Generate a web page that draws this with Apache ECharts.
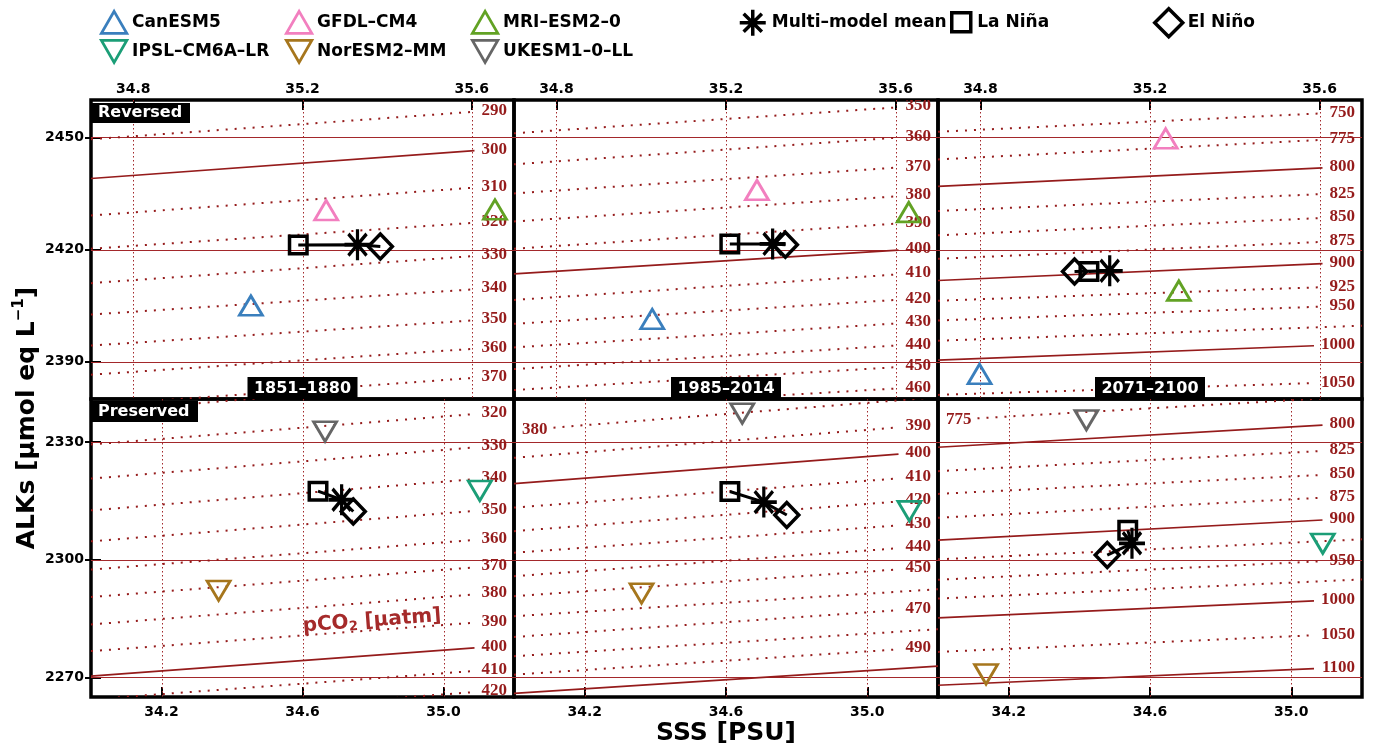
<!DOCTYPE html>
<html><head><meta charset="utf-8">
<script src="https://cdn.jsdelivr.net/npm/echarts@6/dist/echarts.min.js"></script>
<style>html,body{margin:0;padding:0;background:#fff}#c{width:1373px;height:751px}</style>
</head><body><div id="c"></div>
<script>
// ---------------- data ----------------
const periods = ['1851–1880', '1985–2014', '2071–2100'];
const rowLabels = ['Reversed', 'Preserved'];
const xTicksTop = [34.8, 35.2, 35.6];
const xTicksBottom = [34.2, 34.6, 35.0];
const yTicksTop = [2390, 2420, 2450];
const yTicksBottom = [2270, 2300, 2330];
const xRangeTop = [34.7, 35.7];
const xRangeBottom = [34.0, 35.2];
const yRangeTop = [2380, 2460];
const yRangeBottom = [2265, 2341];
// SSS where contour ALK values are read: left edge and label end
const contourXTop = [34.7, 35.6];
const contourXBottom = [34.0, 35.08];

const modelNames = ['CanESM5', 'GFDL–CM4', 'MRI–ESM2–0', 'IPSL–CM6A–LR', 'NorESM2–MM', 'UKESM1–0–LL'];
// [SSS, ALKs] per period
const canESM5 = [[35.078, 2405.0], [35.026, 2401.4], [34.798, 2386.7]];
const gfdlCM4 = [[35.256, 2430.5], [35.273, 2435.9], [35.237, 2449.7]];
const mriESM2 = [[35.655, 2430.7], [35.631, 2430.0], [35.268, 2409.0]];
const ipslCM6A = [[35.103, 2317.6], [35.119, 2312.4], [35.089, 2304.1]];
const norESM2 = [[34.362, 2292.1], [34.361, 2291.4], [34.136, 2270.8]];
const ukESM1 = [[34.664, 2332.7], [34.646, 2337.3], [34.420, 2335.6]];
const laNinaTop = [[35.190, 2421.2], [35.209, 2421.5], [35.056, 2414.1]];
const meanTop = [[35.330, 2421.3], [35.310, 2421.5], [35.105, 2414.3]];
const elNinoTop = [[35.384, 2420.8], [35.340, 2421.3], [35.022, 2414.1]];
const laNinaBottom = [[34.644, 2317.5], [34.611, 2317.4], [34.537, 2307.5]];
const meanBottom = [[34.711, 2315.3], [34.707, 2314.7], [34.549, 2304.2]];
const elNinoBottom = [[34.744, 2312.3], [34.772, 2311.4], [34.479, 2301.2]];

// pCO2 contours: [pCO2, ALKs at left SSS, ALKs at right SSS]
const contoursA = [[290, 2449.5, 2456.8], [300, 2439.0, 2446.4], [310, 2429.1, 2436.5], [320, 2420.2, 2427.1], [330, 2411.0, 2418.2], [340, 2402.6, 2409.3], [350, 2394.3, 2401.0], [360, 2386.5, 2393.4], [370, 2378.3, 2385.6]];
const contoursB = [[350, 2451.1, 2458.0], [360, 2442.8, 2449.9], [370, 2435.0, 2441.9], [380, 2427.5, 2434.2], [390, 2420.2, 2426.9], [400, 2413.5, 2419.8], [410, 2406.5, 2413.3], [420, 2400.1, 2406.5], [430, 2393.8, 2400.2], [440, 2388.0, 2394.3], [450, 2382.4, 2388.5], [460, 2376.8, 2382.8]];
const contoursC = [[750, 2451.5, 2456.4], [775, 2444.1, 2449.3], [800, 2436.9, 2441.8], [825, 2430.3, 2434.8], [850, 2423.8, 2428.4], [875, 2417.5, 2422.0], [900, 2411.7, 2416.2], [925, 2406.3, 2409.9], [950, 2401.0, 2404.7], [1000, 2390.4, 2394.3], [1050, 2381.1, 2384.3]];
const contoursPlainC = [[975, 2395.6, 2399.2]];
const contoursD = [[310, 2337.7, 2345.6], [320, 2329.4, 2337.1], [330, 2320.7, 2328.6], [340, 2312.6, 2320.5], [350, 2304.7, 2312.4], [360, 2297.5, 2305.0], [370, 2290.5, 2298.0], [380, 2283.5, 2291.1], [390, 2276.7, 2283.9], [400, 2270.3, 2277.5], [410, 2264.4, 2271.6], [420, 2259.0, 2266.2]];
const contoursE = [[390, 2326.0, 2333.7], [400, 2319.4, 2326.9], [410, 2313.3, 2320.7], [420, 2307.3, 2314.8], [430, 2301.8, 2308.7], [440, 2295.8, 2302.9], [450, 2290.7, 2297.5], [470, 2280.3, 2287.1], [490, 2270.7, 2277.1]];
const contoursLeftE = [[380, 2332.9, 2340.6]];
const contoursPlainE = [[460, 2285.6, 2291.8], [480, 2275.4, 2281.6], [500, 2265.9, 2272.2]];
const contoursF = [[800, 2328.7, 2334.3], [825, 2322.6, 2327.7], [850, 2316.8, 2321.6], [875, 2310.7, 2315.8], [900, 2305.0, 2310.1], [950, 2294.9, 2299.6], [1000, 2285.2, 2289.6], [1050, 2276.5, 2280.8], [1100, 2268.0, 2272.3]];
const contoursLeftF = [[775, 2335.5, 2341.1]];
const contoursPlainF = [[925, 2300.1, 2304.7], [975, 2290.1, 2294.5]];

// ---------------- styling / layout ----------------
const RED = '#951b1b';
const GRIDRED = '#a3282b';
const FONT = '"DejaVu Sans", sans-serif';
const SERIF = '"Liberation Serif", "DejaVu Serif", serif';
const COLORS = ['#3a7fbd', '#f27fbf', '#62a224', '#1b9e77', '#a6761d', '#666666'];
const TRI_UP = 'path://M10,0L20,17.32L0,17.32Z';
const TRI_DN = 'path://M0,0L20,0L10,17.32Z';
const ASTER = 'path://M10,0L10,20M0,10L20,10M3,3L17,17M3,17L17,3';
const SQUARE = 'path://M0,0L20,0L20,20L0,20Z';
const DIAMOND = 'path://M10,0L20,10L10,20L0,10Z';
const cols = [[91, 514], [514, 938], [938, 1362]];
const rows = [[100, 399], [399, 697]];

const panels = [
  {row: 0, col: 0, right: contoursA, left: [], plain: []},
  {row: 0, col: 1, right: contoursB, left: [], plain: []},
  {row: 0, col: 2, right: contoursC, left: [], plain: contoursPlainC},
  {row: 1, col: 0, right: contoursD, left: [], plain: []},
  {row: 1, col: 1, right: contoursE, left: contoursLeftE, plain: contoursPlainE},
  {row: 1, col: 2, right: contoursF, left: contoursLeftF, plain: contoursPlainF}
];
const topModels = [canESM5, gfdlCM4, mriESM2];
const bottomModels = [ipslCM6A, norESM2, ukESM1];

function makeGridRender(xr, yr) {
  return function (params, api) {
    const o = api.value(0), v = api.value(1);
    const cs = params.coordSys;
    if (o === 0) {
      const y = Math.round(api.coord([xr[0], v])[1]) + 0.5;
      return {type: 'line', shape: {x1: cs.x, y1: y, x2: cs.x + cs.width, y2: y},
        style: {stroke: GRIDRED, lineWidth: 1}};
    }
    const x = Math.round(api.coord([v, yr[0]])[0]) + 0.5;
    return {type: 'line', shape: {x1: x, y1: cs.y, x2: x, y2: cs.y + cs.height},
      style: {stroke: GRIDRED, lineWidth: 1, lineDash: [1.5, 2.5]}};
  };
}

function makeContourRender(cx) {
  return function (params, api) {
    const lvl = api.value(0), aL = api.value(1), aR = api.value(2), mode = api.value(3);
    const cs = params.coordSys;
    const gl = cs.x, gr = cs.x + cs.width;
    const p0 = api.coord([cx[0], aL]), p1 = api.coord([cx[1], aR]);
    const k = (p1[1] - p0[1]) / (p1[0] - p0[0]);
    const yAt = x => p0[1] + k * (x - p0[0]);
    const txt = String(lvl);
    const w = txt.length * 8.5;
    const solid = lvl % 100 === 0;
    const ch = [];
    let xa = gl, xb = gr;
    const tstyle = {text: txt, fill: RED, fontSize: 17, fontFamily: SERIF, fontWeight: 'bold', verticalAlign: 'middle'};
    if (mode === 0) {
      const tx = gr - 7;
      xb = tx - w - 7;
      ch.push({type: 'text', x: tx, y: yAt(tx - w / 2), style: Object.assign({align: 'right'}, tstyle)});
    } else if (mode === 1) {
      const tx = gl + 8;
      ch.push({type: 'text', x: tx, y: yAt(tx + w / 2), style: Object.assign({align: 'left'}, tstyle)});
      xa = tx + w + 6;
    }
    ch.push({type: 'line', shape: {x1: xa, y1: yAt(xa), x2: xb, y2: yAt(xb)},
      style: solid ? {stroke: RED, lineWidth: 1.7} : {stroke: RED, lineWidth: 2, lineDash: [2, 7]}});
    return {type: 'group', children: ch};
  };
}

const grids = [], xAxes = [], yAxes = [], series = [];
const axisText = {fontFamily: FONT, fontWeight: 'bold', fontSize: 14, color: '#000'};

panels.forEach((p, i) => {
  const top = p.row === 0;
  const xr = top ? xRangeTop : xRangeBottom;
  const yr = top ? yRangeTop : yRangeBottom;
  const xt = top ? xTicksTop : xTicksBottom;
  const yt = top ? yTicksTop : yTicksBottom;
  const cx = top ? contourXTop : contourXBottom;
  grids.push({left: cols[p.col][0], top: rows[p.row][0],
    width: cols[p.col][1] - cols[p.col][0], height: rows[p.row][1] - rows[p.row][0],
    show: true, borderColor: '#000', borderWidth: 3.5, backgroundColor: 'transparent'});
  xAxes.push({gridIndex: i, type: 'value', min: xr[0], max: xr[1], position: top ? 'top' : 'bottom',
    axisLine: {show: false},
    axisTick: {show: true, inside: true, length: 10, lineStyle: {color: '#000', width: 2}, customValues: xt},
    axisLabel: Object.assign({show: true, customValues: xt, margin: top ? 4 : 8, formatter: v => v.toFixed(1)}, axisText),
    splitLine: {show: false}});
  yAxes.push({gridIndex: i, type: 'value', min: yr[0], max: yr[1],
    axisLine: {show: false},
    axisTick: {show: p.col === 0, inside: true, length: 10, lineStyle: {color: '#000', width: 2}, customValues: yt},
    axisLabel: Object.assign({show: p.col === 0, customValues: yt, margin: 7, formatter: v => String(Math.round(v))}, axisText),
    splitLine: {show: false}});

  const gridData = yt.map(v => [0, v]).concat(xt.map(v => [1, v]));
  series.push({type: 'custom', xAxisIndex: i, yAxisIndex: i, clip: true, z: 1, silent: true,
    renderItem: makeGridRender(xr, yr), data: gridData});

  const cdata = [];
  p.right.forEach(c => cdata.push([c[0], c[1], c[2], 0]));
  p.left.forEach(c => cdata.push([c[0], c[1], c[2], 1]));
  p.plain.forEach(c => cdata.push([c[0], c[1], c[2], 2]));
  series.push({type: 'custom', xAxisIndex: i, yAxisIndex: i, clip: true, z: 2, silent: true,
    renderItem: makeContourRender(cx), data: cdata});

  const ln = top ? laNinaTop : laNinaBottom, mn = top ? meanTop : meanBottom, en = top ? elNinoTop : elNinoBottom;
  series.push({type: 'line', xAxisIndex: i, yAxisIndex: i, z: 3, symbol: 'none', silent: true,
    lineStyle: {color: '#000', width: 3, opacity: 1}, data: [ln[p.col], mn[p.col], en[p.col]]});

  const mods = top ? topModels : bottomModels;
  mods.forEach((m, j) => {
    const mi = top ? j : j + 3;
    series.push({type: 'scatter', name: modelNames[mi], xAxisIndex: i, yAxisIndex: i, z: 4,
      symbol: top ? TRI_UP : TRI_DN, symbolSize: [23, 19.5],
      itemStyle: {color: 'rgba(0,0,0,0)', borderColor: COLORS[mi], borderWidth: 2.8, opacity: 1},
      data: [m[p.col]]});
  });
  const blk = {color: 'rgba(0,0,0,0)', borderColor: '#000', borderWidth: 3.5, opacity: 1};
  series.push({type: 'scatter', name: 'La Niña', xAxisIndex: i, yAxisIndex: i, z: 5, symbol: SQUARE, symbolSize: [17.5, 17.5],
    itemStyle: blk, data: [ln[p.col]]});
  series.push({type: 'scatter', name: 'Multi–model mean', xAxisIndex: i, yAxisIndex: i, z: 5, symbol: ASTER, symbolSize: [26, 31],
    itemStyle: blk, data: [mn[p.col]]});
  series.push({type: 'scatter', name: 'El Niño', xAxisIndex: i, yAxisIndex: i, z: 5, symbol: DIAMOND, symbolSize: [24, 25],
    itemStyle: blk, data: [en[p.col]]});
});
// outward half of the y ticks on the left column
[0, 3].forEach(i => {
  const top = i === 0;
  yAxes.push({gridIndex: i, type: 'value', min: top ? yRangeTop[0] : yRangeBottom[0], max: top ? yRangeTop[1] : yRangeBottom[1],
    position: 'left', offset: 0, axisLine: {show: false},
    axisTick: {show: true, inside: false, length: 6, lineStyle: {color: '#000', width: 2}, customValues: top ? yTicksTop : yTicksBottom},
    axisLabel: {show: false}, splitLine: {show: false}});
});

// legends
const legendText = {fontFamily: FONT, fontWeight: 'bold', fontSize: 17, color: '#000'};
function leg(name, icon, color, left, top, w, h, bw) {
  return {data: [{name: name, icon: icon, itemStyle: {color: 'rgba(0,0,0,0)', borderColor: color, borderWidth: bw, opacity: 1}}],
    left: left, top: top, itemWidth: w, itemHeight: h, padding: 0, selectedMode: false, textStyle: legendText};
}
const legends = [
  leg(modelNames[0], TRI_UP, COLORS[0], 100, 10, 26, 22, 2.8),
  leg(modelNames[1], TRI_UP, COLORS[1], 285, 10, 26, 22, 2.8),
  leg(modelNames[2], TRI_UP, COLORS[2], 471, 10, 26, 22, 2.8),
  leg(modelNames[3], TRI_DN, COLORS[3], 100, 39, 26, 22, 2.8),
  leg(modelNames[4], TRI_DN, COLORS[4], 285, 39, 26, 22, 2.8),
  leg(modelNames[5], TRI_DN, COLORS[5], 471, 39, 26, 22, 2.8),
  leg('Multi–model mean', ASTER, '#000', 738, 8, 28, 26, 3.5),
  leg('La Niña', SQUARE, '#000', 950, 11, 22, 19, 3.5),
  leg('El Niño', DIAMOND, '#000', 1153, 7, 28, 28, 3.5)
];

// annotation boxes
const graphic = [];
const boxFont = {fontFamily: FONT, fontWeight: 'bold', fontSize: 16, fill: '#fff'};
graphic.push({type: 'rect', z: 100, shape: {x: 90, y: 103, width: 100, height: 20}, style: {fill: '#000'}});
graphic.push({type: 'text', z: 101, x: 98, y: 113, style: Object.assign({text: rowLabels[0], verticalAlign: 'middle', align: 'left'}, boxFont)});
graphic.push({type: 'rect', z: 100, shape: {x: 90, y: 401, width: 108, height: 21}, style: {fill: '#000'}});
graphic.push({type: 'text', z: 101, x: 98, y: 411.5, style: Object.assign({text: rowLabels[1], verticalAlign: 'middle', align: 'left'}, boxFont)});
periods.forEach((t, c) => {
  const cxp = (cols[c][0] + cols[c][1]) / 2;
  graphic.push({type: 'rect', z: 100, shape: {x: cxp - 55, y: 377, width: 110, height: 22}, style: {fill: '#000'}});
  graphic.push({type: 'text', z: 101, x: cxp, y: 388.5, style: Object.assign({text: t, verticalAlign: 'middle', align: 'center'}, boxFont)});
});
graphic.push({type: 'text', z: 101, x: 372, y: 621, rotation: 0.075,
  style: {text: 'pCO{s|2} [µatm]', fill: '#a52a2a', fontFamily: FONT, fontWeight: 'bold', fontSize: 20, align: 'center', verticalAlign: 'middle',
    rich: {s: {fontFamily: FONT, fontWeight: 'bold', fontSize: 13, fill: '#a52a2a', verticalAlign: 'bottom', lineHeight: 22}}}});
graphic.push({type: 'text', z: 101, x: 726, y: 733,
  style: {text: 'SSS [PSU]', fill: '#000', fontFamily: FONT, fontWeight: 'bold', fontSize: 25, align: 'center', verticalAlign: 'middle'}});
graphic.push({type: 'text', z: 101, x: 27, y: 418, rotation: Math.PI / 2,
  style: {text: 'ALKs [µmol eq L{p|−1}]', fill: '#000', fontFamily: FONT, fontWeight: 'bold', fontSize: 25, align: 'center', verticalAlign: 'middle',
    rich: {p: {fontFamily: FONT, fontWeight: 'bold', fontSize: 15, fill: '#000', verticalAlign: 'top', lineHeight: 30}}}});

const chart = echarts.init(document.getElementById('c'), null, {renderer: 'canvas'});
chart.setOption({
  animation: false,
  backgroundColor: '#fff',
  grid: grids, xAxis: xAxes, yAxis: yAxes, series: series,
  legend: legends, graphic: graphic
});
</script>
</body></html>
